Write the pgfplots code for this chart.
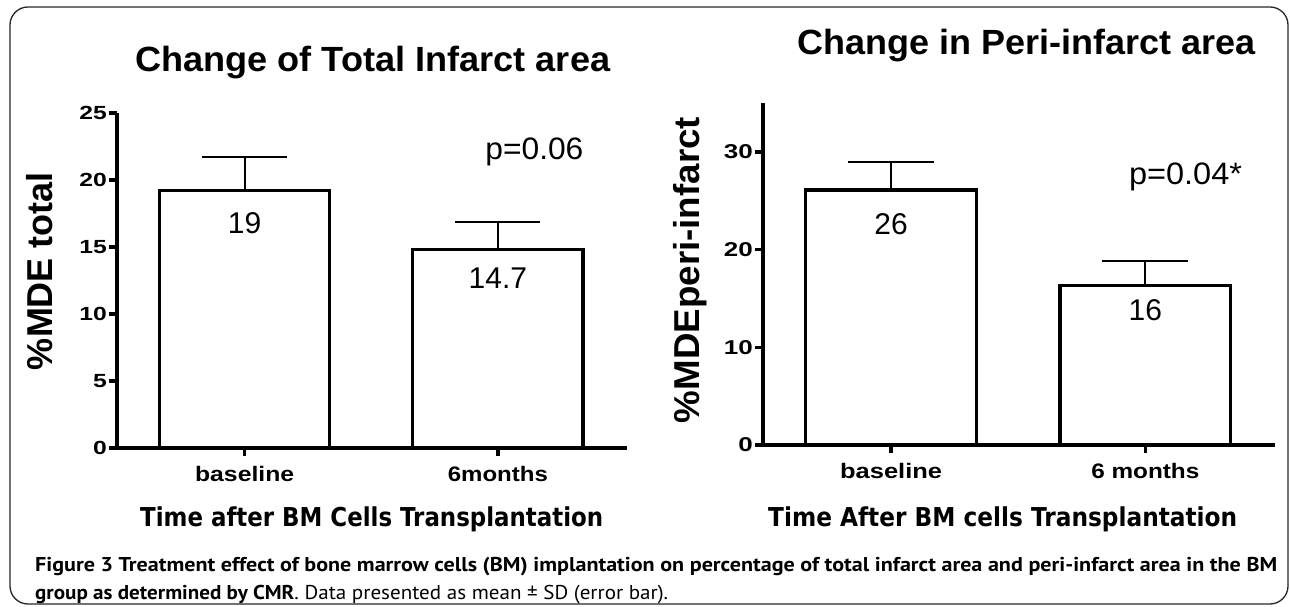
\documentclass[border=0pt]{standalone}
\usepackage{pgfplots}
\pgfplotsset{compat=1.18}
\usepackage{graphicx}
\usepackage{fontspec}
\setmainfont{Liberation Sans}
\newfontfamily\capfont{PT Sans}
\newfontfamily\labfont{DejaVu Sans}
\newcommand\fs[1]{\fontsize{#1bp}{#1bp}\selectfont}
\newcommand\rb[2]{\resizebox{#1bp}{\height}{#2}}
\newcommand\tk[1]{\scalebox{1.3}[1]{#1}}

\pgfplotsset{
  prism/.style={
    scale only axis, anchor=south west,
    axis x line*=bottom, axis y line*=left,
    axis line style={-, line width=3.6bp, black},
    tick align=outside, major tick length=8bp,
    tick style={line width=3.4bp, black},
    xtick={0,1}, xmin=-0.504, xmax=1.51, ymin=0,
    ybar, bar width=0.672,
    yticklabel style={font=\bfseries\fs{19}, inner sep=2bp},
    xticklabel style={font=\bfseries\fs{21}, inner sep=3bp, yshift=-7bp},
    clip=false,
  },
  prismbar/.style={
    draw=black, fill=white, line width=3.3bp, mark=none,
    error bars/.cd, y dir=plus, y explicit,
    error bar style={line width=2bp, black},
    error mark=|,
    error mark options={line width=2bp, black, mark size=#1},
  },
}

\begin{document}
\begin{tikzpicture}
\path[use as bounding box] (0bp,0bp) rectangle (1290bp,607bp);
\draw[rounded corners=18bp, line width=1.3bp, black!85] (10bp,3bp) rectangle (1288bp,600bp);

% left panel
\begin{axis}[prism, at={(117bp,159bp)}, width=510bp, height=335bp,
  ymax=25, ytick={0,5,10,15,20,25},
  yticklabels={\tk{0},\tk{5},\tk{10},\tk{15},\tk{20},\tk{25}},
  xticklabels={\rb{99}{baseline},\rb{100}{6months}}]
\addplot+[prismbar=42.5bp] coordinates {
  (0,19.2) +- (0,2.5)
  (1,14.8) +- (0,2.1)
};
\node[font=\fs{30}] at (axis cs:0,16.8) {19};
\node[font=\fs{30}] at (axis cs:1,12.7) {14.7};
\node[font=\fs{31}, anchor=base west, inner sep=0] at (axis cs:0.95,21.5) {\rb{98}{p=0.06}};
\end{axis}

% right panel
\begin{axis}[prism, at={(763bp,162bp)}, width=512bp, height=342bp,
  ymax=35, ytick={0,10,20,30},
  yticklabels={\tk{0},\tk{10},\tk{20},\tk{30}},
  yticklabel style={font=\bfseries\fs{20}},
  xticklabels={\rb{102}{baseline},\rb{108}{6 months}}]
\addplot+[prismbar=43bp] coordinates {
  (0,26.1) +- (0,2.9)
  (1,16.3) +- (0,2.5)
};
\node[font=\fs{30}] at (axis cs:0,22.6) {26};
\node[font=\fs{30}] at (axis cs:1,13.8) {16};
\node[font=\fs{31}, anchor=base west, inner sep=0] at (axis cs:0.935,26.7) {\rb{113}{p=0.04*}};
\end{axis}

% titles
\node[anchor=base west, inner sep=0, font=\bfseries\fs{35}] at (135bp,535bp) {\rb{475}{Change of Total Infarct area}};
\node[anchor=base west, inner sep=0, font=\bfseries\fs{35}] at (797bp,552bp) {\rb{458}{Change in Peri-infarct area}};

% axis labels
\node[anchor=base, inner sep=0, rotate=90, font=\bfseries\fs{36}] at (52bp,336bp) {\rb{198}{\%MDE total}};
\node[anchor=base, inner sep=0, rotate=90, font=\bfseries\fs{36}] at (699bp,337bp) {\rb{306}{\%MDEperi-infarct}};
\node[anchor=base west, inner sep=0, font=\labfont\bfseries\fs{26}] at (140bp,80bp) {\rb{463}{Time after BM Cells Transplantation}};
\node[anchor=base west, inner sep=0, font=\labfont\bfseries\fs{26}] at (768bp,80bp) {\rb{469}{Time After BM cells Transplantation}};

% caption
\node[anchor=base west, inner sep=0, font=\capfont\fs{20}] at (35bp,35bp) {\rb{1242}{\textbf{Figure 3 Treatment effect of bone marrow cells (BM) implantation on percentage of total infarct area and peri-infarct area in the BM}}};
\node[anchor=base west, inner sep=0, font=\capfont\fs{20}] at (35bp,8bp) {\rb{633}{\textbf{group as determined by CMR}. Data presented as mean ± SD (error bar).}};
\end{tikzpicture}
\end{document}
